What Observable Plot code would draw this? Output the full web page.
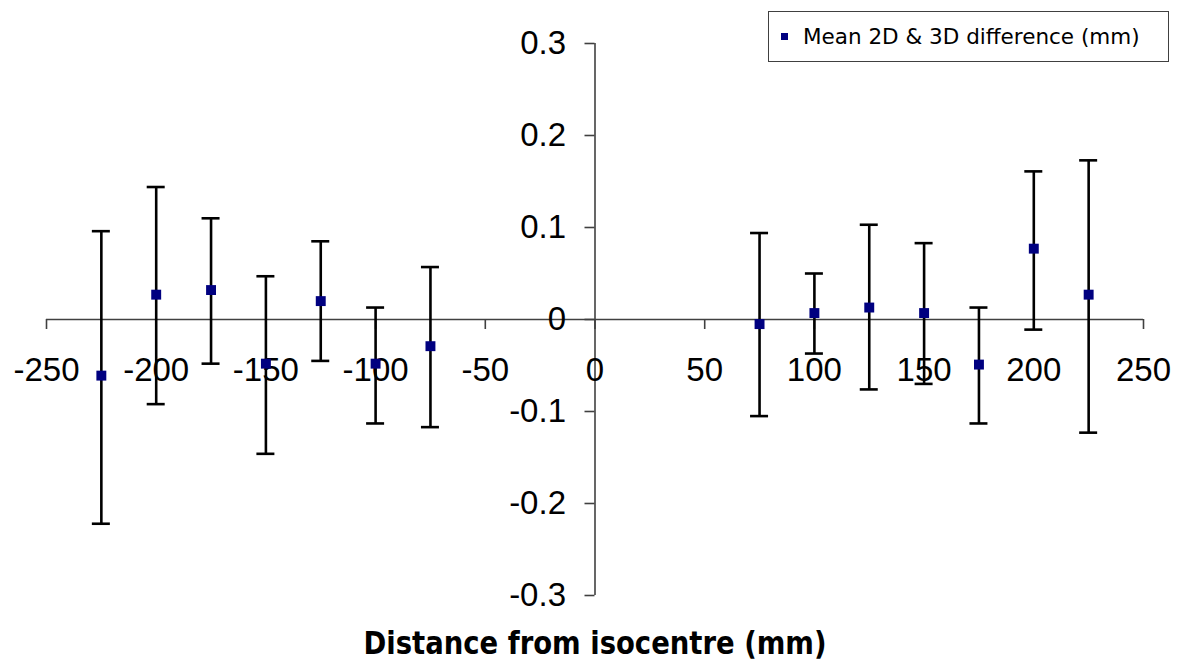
<!DOCTYPE html>
<html><head><meta charset="utf-8">
<script src="https://cdn.jsdelivr.net/npm/d3@7"></script>
<script src="https://cdn.jsdelivr.net/npm/@observablehq/plot@0.6"></script>
<style>
body{margin:0;background:#fff;}
#wrap{position:relative;width:1191px;height:662px;}
#legend{position:absolute;left:768px;top:11px;width:401px;height:51px;border:1px solid #404040;box-sizing:border-box;background:#fff;font-family:"DejaVu Sans",sans-serif;font-size:21.5px;display:flex;align-items:center;color:#000;white-space:nowrap;}
#legend .sw{width:7px;height:7px;background:#000080;margin-left:12px;margin-right:15px;flex:none;}
</style></head><body>
<div id="wrap"></div>
<script>
const distances = [-225, -200, -175, -150, -125, -100, -75, 75, 100, 125, 150, 175, 200, 225];
const means     = [-0.061, 0.027, 0.032, -0.048, 0.020, -0.048, -0.029, -0.005, 0.007, 0.013, 0.007, -0.049, 0.077, 0.027];
const lower     = [-0.222, -0.092, -0.048, -0.146, -0.045, -0.113, -0.117, -0.105, -0.037, -0.076, -0.070, -0.113, -0.011, -0.123];
const upper     = [0.096, 0.144, 0.110, 0.047, 0.085, 0.013, 0.057, 0.094, 0.050, 0.103, 0.083, 0.013, 0.161, 0.173];
const xTicks = [-250, -200, -150, -100, -50, 0, 50, 100, 150, 200, 250];
const yTicks = [-0.3, -0.2, -0.1, 0, 0.1, 0.2, 0.3];
const seriesName = "Mean 2D & 3D difference (mm)";
const xTitle = "Distance from isocentre (mm)";

const data = distances.map((x, i) => ({x, m: means[i], lo: lower[i], hi: upper[i]}));
const axisColor = "#404040";

const chart = Plot.plot({
  width: 1191, height: 662,
  marginLeft: 46, marginRight: 48, marginTop: 43, marginBottom: 67,
  x: {domain: [-250, 250], axis: null},
  y: {domain: [-0.3, 0.3], axis: null},
  style: {fontFamily: "Liberation Sans, Arial, sans-serif", background: "white"},
  marks: [
    Plot.ruleY([0], {x1: xTicks[0], x2: xTicks[xTicks.length - 1], stroke: axisColor, strokeWidth: 1.6}),
    Plot.ruleX([0], {y1: yTicks[0], y2: yTicks[yTicks.length - 1], stroke: axisColor, strokeWidth: 1.6}),
    Plot.ruleX(xTicks, {x: d => d, y1: 0, y2: 0, insetBottom: -10, stroke: axisColor, strokeWidth: 1.6}),
    Plot.ruleY(yTicks, {y: d => d, x1: 0, x2: 0, insetLeft: -10, stroke: axisColor, strokeWidth: 1.6}),
    Plot.text(xTicks, {x: d => d, y: 0, text: d => String(d), dy: 51, fontSize: 33}),
    Plot.text(yTicks, {x: 0, y: d => d, text: d => String(d), textAnchor: "end", dx: -29, fontSize: 33}),
    Plot.text([xTitle], {frameAnchor: "bottom", lineAnchor: "bottom", dy: 58, fontWeight: "bold", fontFamily: "DejaVu Sans", fontSize: 32, className: "xtitle"}),
    Plot.ruleX(data, {x: "x", y1: "lo", y2: "hi", stroke: "black", strokeWidth: 2.6}),
    Plot.ruleY(data, {y: "hi", x1: "x", x2: "x", insetLeft: -9, insetRight: -9, stroke: "black", strokeWidth: 2.6}),
    Plot.ruleY(data, {y: "lo", x1: "x", x2: "x", insetLeft: -9, insetRight: -9, stroke: "black", strokeWidth: 2.6}),
    Plot.dot(data, {x: "x", y: "m", symbol: "square", r: 5.6, fill: "#000080", stroke: "none"})
  ]
});
const wrap = document.getElementById("wrap");
wrap.appendChild(chart);
// fit the bold axis title to the reference width
chart.querySelectorAll("text").forEach(t => {
  if (t.textContent === xTitle) {
    t.setAttribute("textLength", 463);
    t.setAttribute("lengthAdjust", "spacingAndGlyphs");
  }
});
const legend = document.createElement("div");
legend.id = "legend";
legend.innerHTML = `<span class="sw"></span><span></span>`;
legend.lastChild.textContent = seriesName;
wrap.appendChild(legend);
</script>
</body></html>
